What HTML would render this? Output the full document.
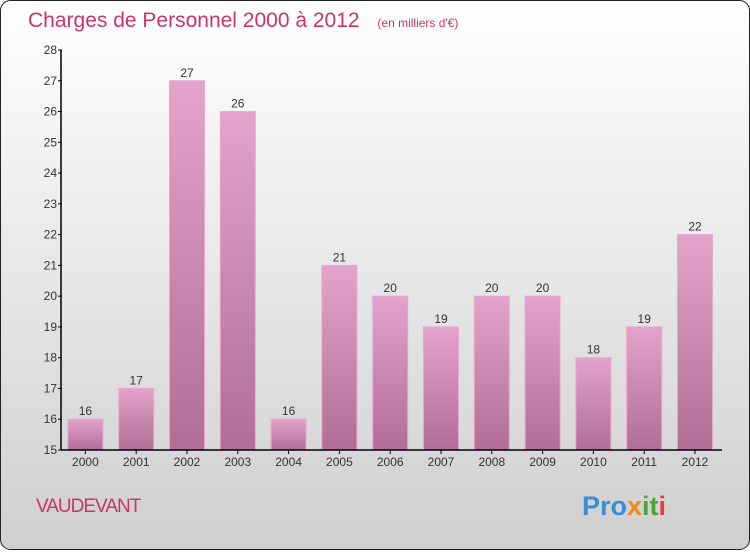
<!DOCTYPE html>
<html><head><meta charset="utf-8"><style>
body{margin:0;width:750px;height:550px;overflow:hidden;font-family:"Liberation Sans",sans-serif}
</style></head><body>
<svg width="750" height="550" xmlns="http://www.w3.org/2000/svg">
<defs>
<linearGradient id="bg" x1="0" y1="0" x2="0" y2="1"><stop offset="0" stop-color="#ffffff"/><stop offset="1" stop-color="#cfcfcf"/></linearGradient>
<linearGradient id="bar" x1="0" y1="0" x2="0" y2="1"><stop offset="0" stop-color="#e3a3cb"/><stop offset="1" stop-color="#b06e96"/></linearGradient>
</defs>
<rect x="0.5" y="0.5" width="749" height="549" rx="10" fill="url(#bg)" stroke="#222"/>
<text x="28" y="27" font-size="21" fill="#c8356b">Charges de Personnel 2000 à 2012 <tspan font-size="12" dx="12">(en milliers d'€)</tspan></text>
<g id="plot"></g>
<text x="36" y="512" font-size="19" fill="#c8356b" letter-spacing="-1">VAUDEVANT</text>
<text x="582" y="515" font-size="27" font-weight="bold"><tspan fill="#3a8fd6">Pro</tspan><tspan fill="#f08a1c">x</tspan><tspan fill="#4aa83a">it</tspan><tspan fill="#e04040">i</tspan></text>
</svg>
<script>
const categories=["2000","2001","2002","2003","2004","2005","2006","2007","2008","2009","2010","2011","2012"];
const values=[16,17,27,26,16,21,20,19,20,20,18,19,22];
const yTicks=[15,16,17,18,19,20,21,22,23,24,25,26,27,28];
const NS="http://www.w3.org/2000/svg";
const g=document.getElementById("plot");
const x0=60,band=50.8,yMin=15,yMax=28,yTop=50,yBot=450;
const y=v=>yBot-(v-yMin)/(yMax-yMin)*(yBot-yTop);
const xc=i=>x0+band*i+band/2;
function mk(t,a,txt){const e=document.createElementNS(NS,t);for(const k in a)e.setAttribute(k,a[k]);if(txt!==undefined)e.textContent=txt;g.appendChild(e);return e;}
values.forEach((v,i)=>{
 const r=mk("rect",{x:xc(i)-17.5,y:y(v),width:35,height:yBot-y(v),fill:"url(#bar)",stroke:"#e6a8d0","stroke-width":1});
 
 
 const t=mk("text",{x:xc(i),y:y(v)-4,"font-size":12,"text-anchor":"middle",fill:"#333"},String(v));
 
 
 const c=mk("text",{x:xc(i),y:466,"font-size":12,"text-anchor":"middle",fill:"#333"},categories[i]);
 
 
 const tk=mk("line",{x1:xc(i),x2:xc(i),y1:yBot,y2:yBot+4,stroke:"#000"});
 
 
});
yTicks.forEach(v=>{
 const l=mk("line",{x1:58,x2:62,y1:y(v),y2:y(v),stroke:"#000"});
 
 
 const t=mk("text",{x:57,y:y(v)+4,"font-size":12,"text-anchor":"end",fill:"#333"},String(v));
 
 
});
const ya=mk("line",{x1:61,x2:61,y1:yTop,y2:yBot,stroke:"#000","stroke-width":1.5});


const xa=mk("line",{x1:61,x2:722,y1:yBot,y2:yBot,stroke:"#000","stroke-width":1.5});


</script>
</body></html>
